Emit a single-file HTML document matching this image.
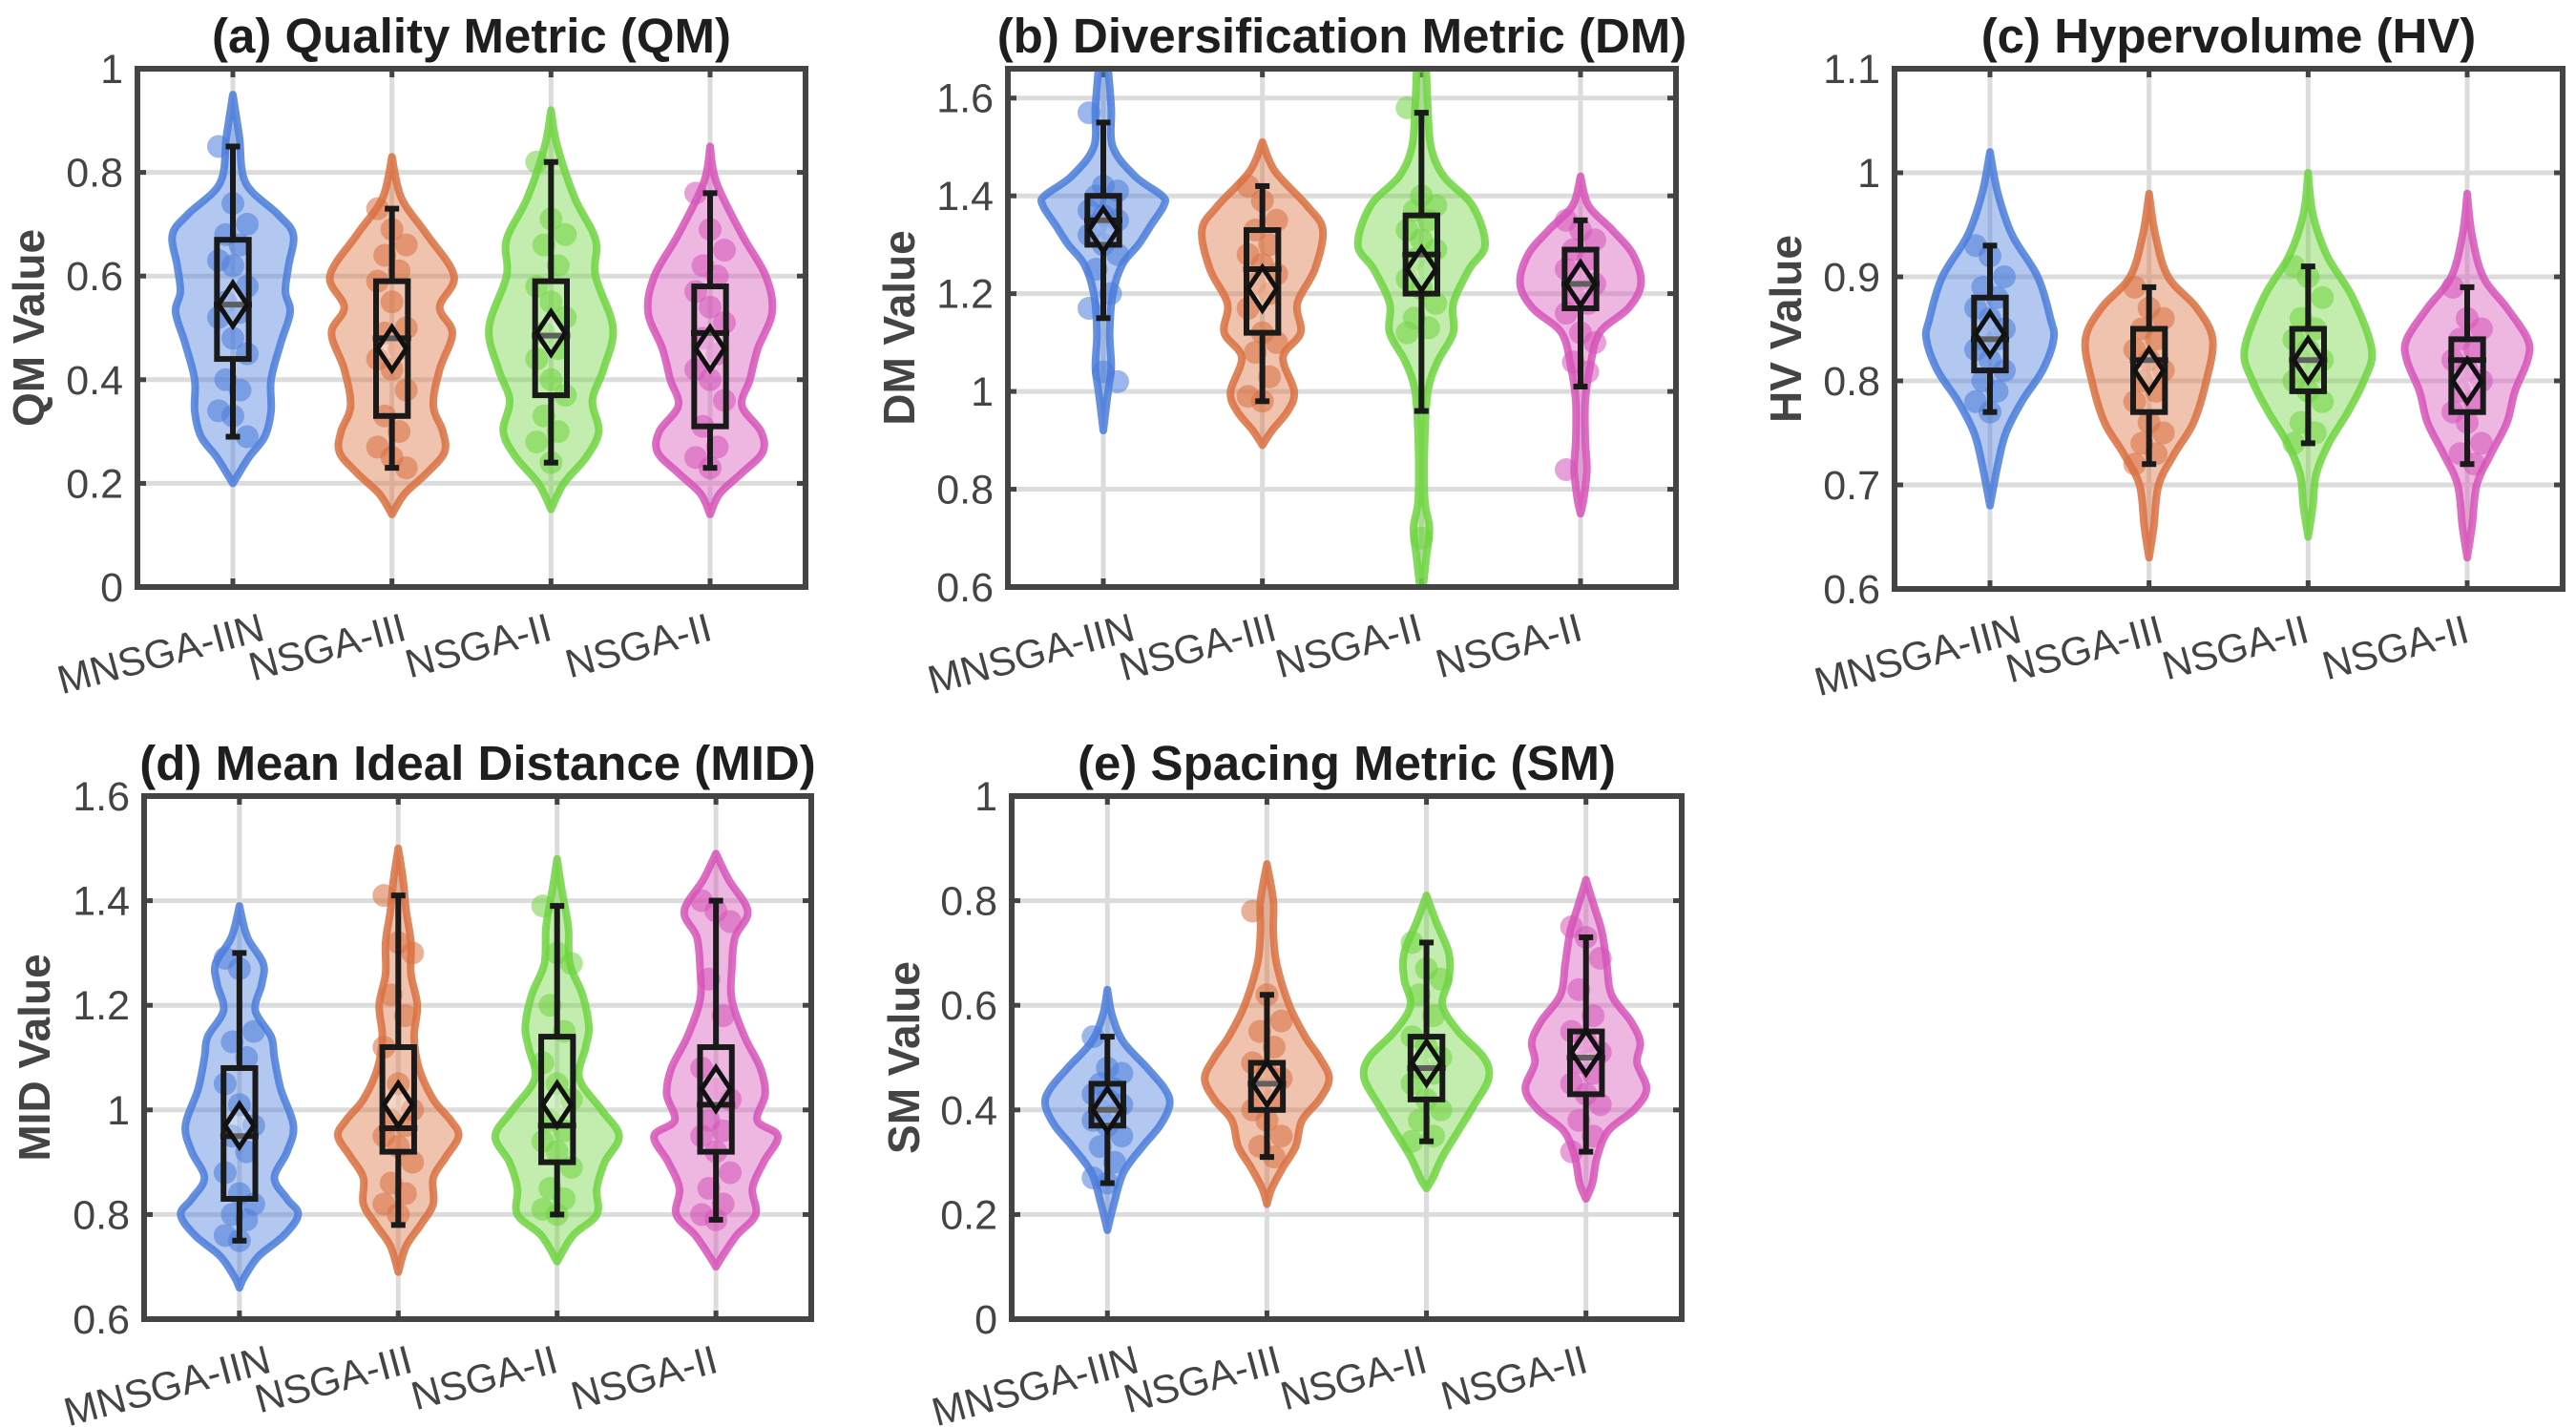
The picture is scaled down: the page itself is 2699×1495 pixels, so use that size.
<!DOCTYPE html>
<html><head><meta charset="utf-8">
<style>
html,body{margin:0;padding:0;background:#fff;}
svg{display:block;}
text{font-family:"Liberation Sans",Arial,sans-serif;}
</style></head>
<body>
<svg id="fig" width="2699" height="1495" viewBox="0 0 2699 1495" xmlns="http://www.w3.org/2000/svg"></svg>
<script>
const categories = ["MNSGA-IIN","NSGA-III","NSGA-II","NSGA-II"];
const seriesColors = ["#4a7cdb","#d9703f","#6fd43f","#d653b8"];

// Panel (a) QM
const qmViolins = [
 [[0.95,0],[0.87,0.04],[0.78,0.08],[0.72,0.28],[0.68,0.38],[0.62,0.35],[0.57,0.33],[0.53,0.36],[0.47,0.3],[0.40,0.24],[0.34,0.24],[0.29,0.2],[0.25,0.1],[0.2,0]],
 [[0.83,0],[0.75,0.06],[0.68,0.22],[0.6,0.39],[0.54,0.3],[0.49,0.38],[0.42,0.3],[0.35,0.26],[0.3,0.32],[0.26,0.33],[0.22,0.22],[0.18,0.08],[0.14,0]],
 [[0.92,0],[0.85,0.04],[0.75,0.15],[0.67,0.28],[0.6,0.28],[0.5,0.39],[0.42,0.33],[0.36,0.26],[0.3,0.3],[0.25,0.22],[0.2,0.08],[0.15,0]],
 [[0.85,0],[0.78,0.04],[0.68,0.2],[0.6,0.35],[0.53,0.39],[0.46,0.3],[0.4,0.25],[0.35,0.2],[0.3,0.32],[0.26,0.33],[0.22,0.2],[0.18,0.06],[0.14,0]]];
const qmBoxes = [[0.29,0.44,0.545,0.67,0.85,0.545],[0.23,0.33,0.48,0.59,0.73,0.46],[0.24,0.37,0.485,0.59,0.82,0.49],[0.23,0.31,0.49,0.58,0.76,0.46]];
const qmPoints = [
 [0.85,0.74,0.70,0.68,0.66,0.63,0.62,0.58,0.55,0.53,0.52,0.48,0.45,0.40,0.38,0.34,0.33,0.29],
 [0.73,0.69,0.66,0.64,0.61,0.59,0.55,0.50,0.49,0.46,0.44,0.42,0.38,0.33,0.30,0.27,0.25,0.23],
 [0.82,0.71,0.68,0.66,0.62,0.58,0.55,0.52,0.49,0.46,0.44,0.40,0.37,0.33,0.30,0.28,0.24],
 [0.76,0.69,0.65,0.62,0.60,0.57,0.54,0.51,0.48,0.45,0.42,0.40,0.36,0.31,0.27,0.25,0.23]];

// Panel (b) DM
const dmViolins = [
 [[1.66,0.03],[1.58,0.05],[1.5,0.06],[1.44,0.2],[1.4,0.37],[1.38,0.38],[1.34,0.3],[1.3,0.22],[1.26,0.12],[1.2,0.06],[1.12,0.04],[1.05,0.05],[1.0,0.03],[0.92,0]],
 [[1.51,0],[1.45,0.08],[1.38,0.28],[1.33,0.38],[1.25,0.33],[1.18,0.22],[1.12,0.24],[1.07,0.13],[1.0,0.2],[0.96,0.16],[0.92,0.06],[0.89,0]],
 [[1.66,0.03],[1.58,0.04],[1.5,0.06],[1.44,0.14],[1.38,0.32],[1.3,0.4],[1.25,0.3],[1.18,0.2],[1.12,0.2],[1.06,0.1],[1.0,0.04],[0.9,0.02],[0.78,0.02],[0.72,0.05],[0.66,0.03],[0.6,0.01]],
 [[1.44,0],[1.38,0.05],[1.33,0.2],[1.28,0.33],[1.22,0.38],[1.17,0.3],[1.12,0.12],[1.05,0.06],[0.98,0.03],[0.9,0.03],[0.84,0.04],[0.78,0.02],[0.75,0]]];
const dmBoxes = [[1.15,1.30,1.35,1.40,1.55,1.33],[0.98,1.12,1.25,1.33,1.42,1.21],[0.96,1.20,1.28,1.36,1.57,1.25],[1.01,1.17,1.22,1.29,1.35,1.22]];
const dmPoints = [
 [1.57,1.42,1.41,1.40,1.38,1.37,1.36,1.35,1.34,1.33,1.32,1.30,1.28,1.25,1.20,1.17,1.04,1.02],
 [1.42,1.39,1.35,1.33,1.30,1.28,1.26,1.24,1.22,1.20,1.17,1.12,1.10,1.08,1.03,0.99,0.98],
 [1.58,1.40,1.38,1.37,1.35,1.33,1.31,1.29,1.27,1.25,1.23,1.21,1.18,1.15,1.13,1.12,0.70],
 [1.35,1.33,1.31,1.29,1.27,1.25,1.23,1.22,1.20,1.18,1.16,1.12,1.10,1.06,1.04,0.84]];

// Panel (c) HV
const hvViolins = [
 [[1.02,0],[0.98,0.05],[0.94,0.14],[0.9,0.3],[0.86,0.38],[0.84,0.4],[0.81,0.33],[0.78,0.2],[0.75,0.1],[0.72,0.05],[0.68,0]],
 [[0.98,0],[0.94,0.04],[0.9,0.12],[0.87,0.3],[0.84,0.4],[0.8,0.36],[0.76,0.28],[0.73,0.16],[0.7,0.06],[0.66,0.03],[0.63,0]],
 [[1.0,0],[0.96,0.03],[0.92,0.12],[0.88,0.28],[0.83,0.4],[0.8,0.35],[0.77,0.25],[0.74,0.13],[0.71,0.05],[0.68,0.03],[0.65,0]],
 [[0.98,0],[0.94,0.03],[0.9,0.1],[0.87,0.25],[0.84,0.38],[0.82,0.38],[0.79,0.3],[0.76,0.25],[0.73,0.15],[0.7,0.06],[0.66,0.03],[0.63,0]]];
const hvBoxes = [[0.77,0.81,0.84,0.88,0.93,0.845],[0.72,0.77,0.82,0.85,0.89,0.81],[0.74,0.79,0.82,0.85,0.91,0.82],[0.72,0.77,0.82,0.84,0.89,0.80]];
const hvPoints = [
 [0.93,0.92,0.90,0.89,0.88,0.87,0.86,0.85,0.84,0.84,0.83,0.82,0.81,0.80,0.79,0.78,0.77],
 [0.89,0.87,0.86,0.85,0.84,0.83,0.82,0.81,0.80,0.79,0.78,0.76,0.75,0.74,0.73,0.72],
 [0.91,0.90,0.88,0.86,0.85,0.84,0.83,0.82,0.82,0.81,0.80,0.79,0.78,0.76,0.75,0.74],
 [0.89,0.86,0.85,0.84,0.83,0.82,0.81,0.80,0.79,0.78,0.77,0.76,0.74,0.73,0.72]];

// Panel (d) MID
const midViolins = [
 [[1.39,0],[1.33,0.05],[1.28,0.15],[1.24,0.14],[1.19,0.1],[1.14,0.2],[1.1,0.22],[1.04,0.26],[0.97,0.34],[0.92,0.3],[0.87,0.22],[0.83,0.3],[0.8,0.37],[0.76,0.28],[0.72,0.12],[0.68,0.03],[0.66,0]],
 [[1.5,0],[1.44,0.03],[1.38,0.05],[1.32,0.08],[1.26,0.08],[1.2,0.12],[1.14,0.1],[1.08,0.13],[1.02,0.22],[0.98,0.33],[0.95,0.38],[0.91,0.3],[0.87,0.22],[0.82,0.22],[0.78,0.14],[0.74,0.05],[0.69,0]],
 [[1.48,0],[1.42,0.03],[1.35,0.07],[1.28,0.08],[1.22,0.16],[1.16,0.2],[1.12,0.18],[1.06,0.14],[1.0,0.28],[0.95,0.39],[0.9,0.3],[0.85,0.25],[0.8,0.25],[0.76,0.1],[0.71,0]],
 [[1.49,0],[1.44,0.08],[1.38,0.2],[1.33,0.12],[1.27,0.1],[1.21,0.1],[1.14,0.18],[1.08,0.28],[1.03,0.31],[0.98,0.26],[0.95,0.39],[0.9,0.3],[0.85,0.23],[0.8,0.25],[0.76,0.13],[0.72,0.04],[0.7,0]]];
const midBoxes = [[0.75,0.83,0.95,1.08,1.30,0.97],[0.78,0.92,0.965,1.12,1.41,1.01],[0.80,0.90,0.97,1.14,1.39,1.01],[0.79,0.92,1.01,1.12,1.40,1.04]];
const midPoints = [
 [1.29,1.27,1.15,1.13,1.10,1.05,1.01,0.97,0.95,0.92,0.88,0.84,0.82,0.80,0.79,0.76,0.75],
 [1.41,1.32,1.30,1.22,1.18,1.12,1.05,1.00,0.98,0.97,0.95,0.93,0.90,0.86,0.84,0.82,0.80],
 [1.39,1.30,1.28,1.20,1.15,1.09,1.05,1.02,0.98,0.96,0.94,0.92,0.89,0.85,0.83,0.81,0.80],
 [1.40,1.38,1.36,1.25,1.18,1.08,1.04,1.02,0.98,0.96,0.95,0.92,0.88,0.85,0.82,0.80,0.79]];

// Panel (e) SM
const smViolins = [
 [[0.63,0],[0.58,0.03],[0.53,0.1],[0.48,0.25],[0.44,0.36],[0.41,0.39],[0.37,0.33],[0.33,0.22],[0.28,0.1],[0.22,0.04],[0.17,0]],
 [[0.87,0],[0.8,0.04],[0.74,0.04],[0.68,0.06],[0.6,0.14],[0.54,0.24],[0.5,0.33],[0.46,0.39],[0.42,0.33],[0.38,0.22],[0.33,0.18],[0.29,0.1],[0.25,0.03],[0.22,0]],
 [[0.81,0],[0.76,0.06],[0.7,0.14],[0.65,0.14],[0.6,0.1],[0.55,0.2],[0.5,0.36],[0.46,0.39],[0.41,0.3],[0.36,0.2],[0.31,0.1],[0.27,0.04],[0.25,0]],
 [[0.84,0],[0.79,0.05],[0.74,0.1],[0.68,0.13],[0.62,0.16],[0.57,0.28],[0.53,0.34],[0.49,0.32],[0.44,0.38],[0.4,0.3],[0.36,0.14],[0.31,0.07],[0.26,0.04],[0.23,0]]];
const smBoxes = [[0.26,0.37,0.40,0.45,0.54,0.40],[0.31,0.40,0.45,0.49,0.62,0.45],[0.34,0.42,0.48,0.54,0.72,0.49],[0.32,0.43,0.50,0.55,0.73,0.51]];
const smPoints = [
 [0.54,0.48,0.47,0.45,0.44,0.43,0.42,0.41,0.40,0.39,0.38,0.37,0.35,0.33,0.30,0.27,0.26],
 [0.78,0.62,0.57,0.55,0.52,0.49,0.47,0.46,0.44,0.42,0.40,0.38,0.35,0.33,0.31],
 [0.72,0.67,0.65,0.62,0.58,0.54,0.52,0.50,0.48,0.47,0.45,0.42,0.40,0.38,0.35,0.34],
 [0.75,0.73,0.69,0.63,0.58,0.55,0.53,0.51,0.49,0.47,0.45,0.43,0.41,0.38,0.35,0.32]];

const yTicksA = ["0","0.2","0.4","0.6","0.8","1"];
const yTicksB = ["0.6","0.8","1","1.2","1.4","1.6"];
const yTicksC = ["0.6","0.7","0.8","0.9","1","1.1"];
const yTicksD = ["0.6","0.8","1","1.2","1.4","1.6"];
const yTicksE = ["0","0.2","0.4","0.6","0.8","1"];

const panels = [
 {id:"qm",title:"(a) Quality Metric (QM)",ylabel:"QM Value",L:144,R:844,T:72,B:615,ymin:0,ymax:1,ticks:yTicksA,vi:qmViolins,bx:qmBoxes,pts:qmPoints,ylx:46},
 {id:"dm",title:"(b) Diversification Metric (DM)",ylabel:"DM Value",L:1056,R:1756,T:72,B:615,ymin:0.6,ymax:1.66,ticks:yTicksB,vi:dmViolins,bx:dmBoxes,pts:dmPoints,ylx:958},
 {id:"hv",title:"(c) Hypervolume (HV)",ylabel:"HV Value",L:1985,R:2685,T:72,B:617,ymin:0.6,ymax:1.1,ticks:yTicksC,vi:hvViolins,bx:hvBoxes,pts:hvPoints,ylx:1887},
 {id:"mid",title:"(d) Mean Ideal Distance (MID)",ylabel:"MID Value",L:151,R:850,T:834,B:1382,ymin:0.6,ymax:1.6,ticks:yTicksD,vi:midViolins,bx:midBoxes,pts:midPoints,ylx:52},
 {id:"sm",title:"(e) Spacing Metric (SM)",ylabel:"SM Value",L:1060,R:1762,T:834,B:1382,ymin:0,ymax:1,ticks:yTicksE,vi:smViolins,bx:smBoxes,pts:smPoints,ylx:963}
];
const labelShift = [35,17,3,4];

const NS="http://www.w3.org/2000/svg";
const svg=document.getElementById('fig');
function mk(tag,attrs,parent){const e=document.createElementNS(NS,tag);for(const k in attrs)e.setAttribute(k,attrs[k]);(parent||svg).appendChild(e);return e;}

function smoothPath(pts){
  let d="";
  for(let i=0;i<pts.length-1;i++){
    const p0=pts[Math.max(0,i-1)],p1=pts[i],p2=pts[i+1],p3=pts[Math.min(pts.length-1,i+2)];
    const c1=[p1[0]+(p2[0]-p0[0])/6,p1[1]+(p2[1]-p0[1])/6];
    const c2=[p2[0]-(p3[0]-p1[0])/6,p2[1]-(p3[1]-p1[1])/6];
    d+=` C${c1[0].toFixed(1)},${c1[1].toFixed(1)} ${c2[0].toFixed(1)},${c2[1].toFixed(1)} ${p2[0].toFixed(1)},${p2[1].toFixed(1)}`;
  }
  return d;
}

panels.forEach(P=>{
  const g=mk('g',{});
  
  
  const unit=(P.R-P.L)/4.2;
  const xs=i=>P.L+(i+0.6)*unit;
  const ys=v=>P.B-(v-P.ymin)/(P.ymax-P.ymin)*(P.B-P.T);
  const clip=mk('clipPath',{id:'clip-'+P.id},g);
  mk('rect',{x:P.L,y:P.T,width:P.R-P.L,height:P.B-P.T},clip);
  P.ticks.forEach((t,k)=>{
    const v=parseFloat(t), y=ys(v);
    if(y>P.T+2 && y<P.B-2){
      const gl=mk('line',{x1:P.L,x2:P.R,y1:y,y2:y,stroke:'#dcdcdc','stroke-width':5},g);
      
      
    }
    mk('line',{x1:P.L,x2:P.L+9,y1:y,y2:y,stroke:'#444','stroke-width':5},g);
    mk('line',{x1:P.R-9,x2:P.R,y1:y,y2:y,stroke:'#444','stroke-width':5},g);
    const tl=mk('text',{x:P.L-15,y:y+15,'text-anchor':'end','font-size':43,fill:'#444'},g);
    tl.textContent=t;
    
    
  });
  categories.forEach((c,i)=>{
    const x=xs(i);
    const gl=mk('line',{x1:x,x2:x,y1:P.T,y2:P.B,stroke:'#dcdcdc','stroke-width':5},g);
    
    
    mk('line',{x1:x,x2:x,y1:P.B-9,y2:P.B,stroke:'#444','stroke-width':5},g);
    mk('line',{x1:x,x2:x,y1:P.T,y2:P.T+9,stroke:'#444','stroke-width':5},g);
    const ax=x+labelShift[i], ay=P.B+55;
    const tl=mk('text',{x:ax,y:ay,'text-anchor':'end','font-size':42,fill:'#444',transform:`rotate(-15 ${ax} ${ay})`},g);
    tl.textContent=c;
    
    
  });
  const plot=mk('g',{'clip-path':`url(#clip-${P.id})`},g);
  P.vi.forEach((knots,i)=>{
    const col=seriesColors[i], cx=xs(i);
    const right=knots.map(k=>[cx+k[1]*unit,ys(k[0])]);
    const left=knots.slice().reverse().map(k=>[cx-k[1]*unit,ys(k[0])]);
    let d=`M${right[0][0]},${right[0][1]}`+smoothPath(right)+` L${left[0][0]},${left[0][1]}`+smoothPath(left)+'Z';
    const vp=mk('path',{d:d,fill:col,'fill-opacity':0.42,stroke:col,'stroke-opacity':0.85,'stroke-width':8,'stroke-linejoin':'round'},plot);
    
    
    P.pts[i].forEach((v,j)=>{
      const off=(((j*7)%5)-2)*0.045*unit;
      const pc=mk('circle',{cx:cx+off,cy:ys(v),r:12,fill:col,'fill-opacity':0.55},plot);
      
      
    });
    const b=P.bx[i], hw=0.1*unit, cw=0.045*unit;
    const bg=mk('g',{stroke:'#1a1a1a','stroke-width':6,fill:'none'},plot);
    
    
    mk('line',{x1:cx,x2:cx,y1:ys(b[4]),y2:ys(b[3])},bg);
    mk('line',{x1:cx,x2:cx,y1:ys(b[1]),y2:ys(b[0])},bg);
    mk('line',{x1:cx-cw,x2:cx+cw,y1:ys(b[4]),y2:ys(b[4])},bg);
    mk('line',{x1:cx-cw,x2:cx+cw,y1:ys(b[0]),y2:ys(b[0])},bg);
    mk('rect',{x:cx-hw,y:ys(b[3]),width:2*hw,height:ys(b[1])-ys(b[3])},bg);
    mk('line',{x1:cx-0.12*unit,x2:cx+0.12*unit,y1:ys(b[2]),y2:ys(b[2])},bg);
    const my=ys(b[5]), dm=15;
    const md=mk('path',{d:`M${cx},${my-dm*1.5} L${cx+dm},${my} L${cx},${my+dm*1.5} L${cx-dm},${my}Z`,fill:'#fff','fill-opacity':0.3,stroke:'#111','stroke-width':5},plot);
    
    
  });
  const fr=mk('rect',{x:P.L,y:P.T,width:P.R-P.L,height:P.B-P.T,fill:'none',stroke:'#444','stroke-width':6},g);
  
  
  const tt=mk('text',{x:(P.L+P.R)/2,y:P.T-17,'text-anchor':'middle','font-size':51,'font-weight':'bold',fill:'#1e1e1e'},g);
  tt.textContent=P.title;
  
  
  const cy=(P.T+P.B)/2;
  const yl=mk('text',{x:P.ylx,y:cy,'text-anchor':'middle','font-size':46,'font-weight':'bold',fill:'#444',transform:`rotate(-90 ${P.ylx} ${cy})`},g);
  yl.textContent=P.ylabel;
  
  
});
</script>
</body></html>
